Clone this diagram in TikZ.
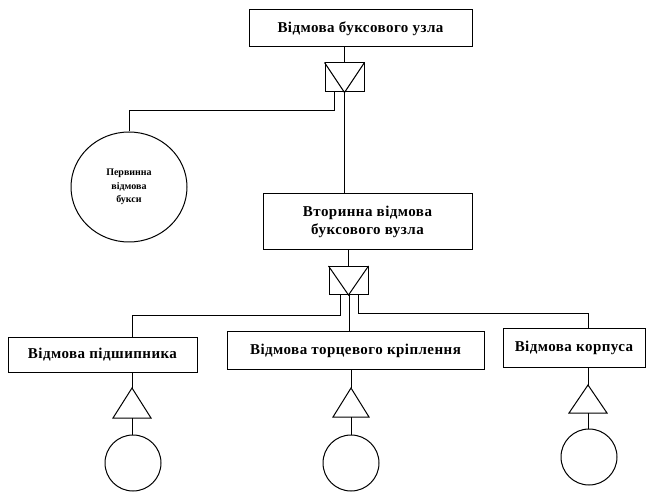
\documentclass[tikz,border=0pt]{standalone}
\usepackage{fontspec}
\setmainfont{Liberation Serif}
\usetikzlibrary{positioning,shapes.geometric}
\begin{document}
\begin{tikzpicture}[x=1pt,y=-1pt,line width=1pt,
  evbox/.style={draw,rectangle,inner sep=0pt,font=\bfseries\fontsize{15}{17.5}\selectfont\addfontfeature{LetterSpace=3},align=center},
  gatebox/.style={draw,rectangle,inner sep=0pt,minimum width=39pt,minimum height=29pt},
  basic/.style={draw,circle,inner sep=0pt,minimum size=56pt},
  wire/.style={line width=1pt}]
\useasboundingbox (0,0) rectangle (648,497);
% top event
\node[evbox,minimum width=223pt,minimum height=37pt] (top) at (360.5,28.5) {Відмова буксового узла};
\node[gatebox] (g1) at (344.5,77.5) {};
\draw[wire] (g1.north west) -- (g1.south) -- (g1.north east);
\draw[wire] (top.south -| g1.north) -- (g1.north);
% primary failure
\node[draw,ellipse,inner sep=0pt,minimum width=116pt,minimum height=110pt,align=center,
  font=\bfseries\fontsize{10}{13.5}\selectfont] (prim) at (129,187) {Первинна\\відмова\\букси};
% secondary
\node[evbox,minimum width=209pt,minimum height=56pt] (sec) at (367.5,222) {Вторинна відмова\\буксового вузла};
\coordinate (g1a) at ([xshift=-10pt]g1.south);
\coordinate (h1) at (0,111);
\draw[wire] (g1a) -- (g1a |- h1) -- (prim.north |- h1) -- (prim.north);
\draw[wire] (g1.south) -- (g1.south |- sec.north);
\node[gatebox,minimum width=39pt,minimum height=28pt] (g2) at (348.5,280.5) {};
\draw[wire] (g2.north west) -- (g2.south) -- (g2.north east);
\draw[wire] (g2.north |- sec.south) -- (g2.north);
% intermediate events
\node[evbox,minimum width=189pt,minimum height=35pt] (e1) at (102.5,354.5) {Відмова підшипника};
\node[evbox,minimum width=257pt,minimum height=38pt] (e2) at (355.5,350.5) {Відмова торцевого кріплення};
\node[evbox,minimum width=142pt,minimum height=39pt] (e3) at (574,347.5) {Відмова корпуса};
\coordinate (g2l) at ([xshift=-8pt]g2.south);
\coordinate (g2m) at ([xshift=1pt]g2.south);
\coordinate (g2r) at ([xshift=10pt]g2.south);
\coordinate (c1) at (132,315);
\coordinate (c3) at (588,313);
\draw[wire] (g2l) -- (g2l |- c1) -- (c1) -- (c1 |- e1.north);
\draw[wire] (g2m) -- (g2m |- e2.north);
\draw[wire] (g2r) -- (g2r |- c3) -- (c3) -- (c3 |- e3.north);
% transfer triangles and basic events
\coordinate (t1a) at (132,388); \coordinate (t1b) at (132,418);
\draw[wire] (t1a) -- (151,418) -- (113,418) -- cycle;
\coordinate (t2a) at (351,388); \coordinate (t2b) at (351,417);
\draw[wire] (t2a) -- (369,417) -- (333,417) -- cycle;
\coordinate (t3a) at (588,385); \coordinate (t3b) at (588,413);
\draw[wire] (t3a) -- (607,413) -- (569,413) -- cycle;
\node[basic] (b1) at (133,463) {};
\node[basic] (b2) at (351,463) {};
\node[basic] (b3) at (589,457) {};
\draw[wire] (t1a |- e1.south) -- (t1a);
\draw[wire] (t2a |- e2.south) -- (t2a);
\draw[wire] (t3a |- e3.south) -- (t3a);
\draw[wire] (t1b) -- (t1b |- b1.north);
\draw[wire] (t2b) -- (b2.north);
\draw[wire] (t3b) -- (t3b |- b3.north);
\end{tikzpicture}
\end{document}
